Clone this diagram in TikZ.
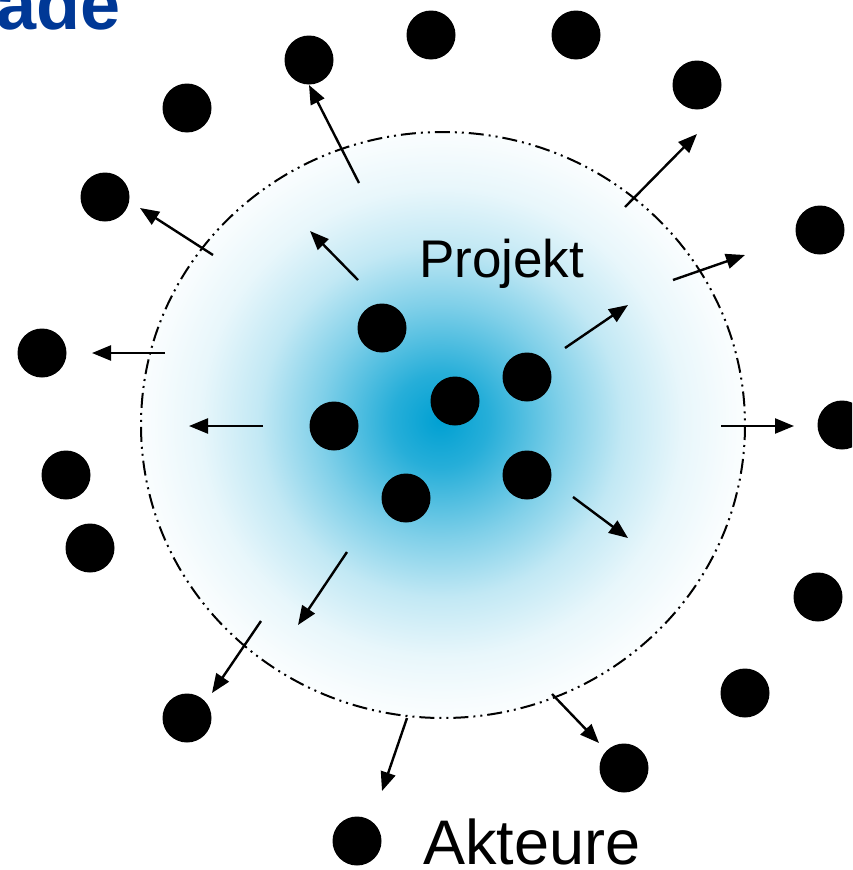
\documentclass[tikz,border=0pt]{standalone}
\usepackage{fontspec}
\setmainfont{Liberation Sans}
\usetikzlibrary{arrows.meta}

\definecolor{projblue}{RGB}{0,160,210}
\definecolor{titleblue}{RGB}{0,56,150}

% glow inside the project circle
\pgfdeclareradialshading{projglow}{\pgfpoint{-0.25bp}{0.4bp}}{%
  color(0bp)=(projblue); color(4bp)=(projblue!85!white);
  color(10bp)=(projblue!50!white); color(15bp)=(projblue!24!white);
  color(20bp)=(projblue!9!white); color(24bp)=(projblue!3!white);
  color(27bp)=(white); color(50bp)=(white)}

\tikzset{
  actor/.style={circle, fill=black, inner sep=0pt, minimum size=49pt},
  push/.style={-{Triangle[length=19pt,width=15pt]}, line width=2.4pt},
  border/.style={line width=2pt,
    dash pattern=on 15pt off 5pt on 2pt off 5pt on 2pt off 5pt},
  label/.style={anchor=base west, inner sep=0pt, font=\fontsize{#1pt}{#1pt}\selectfont}
}

\begin{document}
\begin{tikzpicture}[x=1pt, y=-1pt]
\useasboundingbox (0,0) rectangle (852,870);
\clip (0,0) rectangle (852,870);

\node[label=72, text=titleblue, font=\bfseries\fontsize{72pt}{72pt}\selectfont] (title) at (-4,29) {ade};

% project area
\shade[shading=projglow] (443,425) ellipse [x radius=302, y radius=293];
\draw[border] (443,425) ellipse [x radius=302, y radius=293];
\node[label=53] (projekt) at (419,277) {Projekt};

% actors inside and outside
\foreach \n/\x/\y in {i1/382/328, i2/527/377, i3/455/401, i4/334/426,
    i5/527/475, i6/406/498,
    o1/309/60, o2/431/35, o3/576/35, o4/697/85, o5/187/108, o6/105/197,
    o7/820/230, o8/42/353, o9/842/425, o10/66/475, o11/90/548,
    o12/818/597, o13/745/693, o14/187/718, o15/624/768}
  \node[actor] (\n) at (\x,\y) {};

% drift outwards
\foreach \i/\xa/\ya/\xb/\yb in {1/359/183/309/85, 2/213/255/140/208,
    3/358/280/310/231, 4/165/353/92/353, 5/263/426/189/426,
    6/347/552/298/625, 7/261/621/212/693, 8/407/718/382/791,
    9/552/694/599/743, 10/573/497/628/538, 11/721/426/794/426,
    12/565/348/628/305, 13/673/280/745/255, 14/625/207/697/134} {
  \coordinate (from\i) at (\xa,\ya);
  \coordinate (to\i) at (\xb,\yb);
  \draw[push] (from\i) -- (to\i);
}

% legend
\node[actor] (key) at (357,841) {};
\node[label=63] (akteure) at (423,864) {Akteure};
\end{tikzpicture}
\end{document}
